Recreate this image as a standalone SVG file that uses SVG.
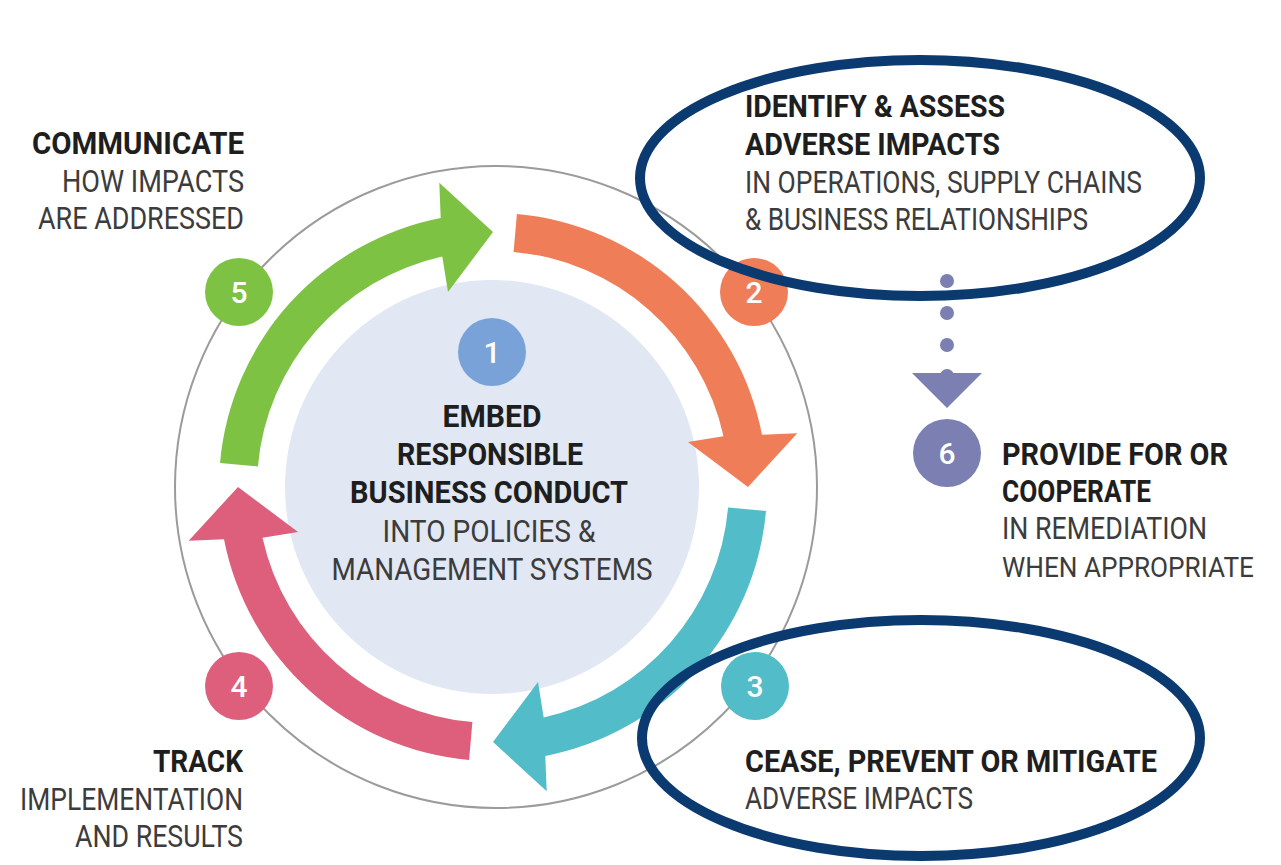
<svg xmlns="http://www.w3.org/2000/svg" width="1281" height="865" viewBox="0 0 1281 865">
<style>
.b{font-family:Roboto,"Liberation Sans",sans-serif;font-weight:700;font-size:31px;fill:#1e1e1e}
.r{font-family:Roboto,"Liberation Sans",sans-serif;font-weight:400;font-size:31px;fill:#3c3c3c}
.n{font-family:Roboto,"Liberation Sans",sans-serif;font-weight:500;font-size:30px;fill:#ffffff;text-anchor:middle}
.ring{fill:none;stroke:#9b9b9b;stroke-width:2}
.oval{fill:none;stroke:#0b3a70;stroke-width:10}
</style>
<defs>
<path id="arr" d="M516.9,214 A274,274 0 0,1 762,434.7 L797.3,433.3 L748,487 L687.9,442 L723.5,436.3 A236,236 0 0,0 513.6,251.9 Z"/>
</defs>
<rect width="1281" height="865" fill="#ffffff"/>
<circle class="ring" cx="496" cy="487" r="321"/>
<g id="core">
<circle cx="492" cy="487" r="207" fill="#e1e8f4"/>
<circle cx="492" cy="352" r="34" fill="#79a3d8"/>
<text class="n" x="492" y="363">1</text>
<text class="b" x="492" y="427" text-anchor="middle" textLength="99" lengthAdjust="spacingAndGlyphs">EMBED</text>
<text class="b" x="490" y="465" text-anchor="middle" textLength="186" lengthAdjust="spacingAndGlyphs">RESPONSIBLE</text>
<text class="b" x="489" y="503" text-anchor="middle" textLength="278" lengthAdjust="spacingAndGlyphs">BUSINESS CONDUCT</text>
<text class="r" x="489" y="542" text-anchor="middle" textLength="213" lengthAdjust="spacingAndGlyphs">INTO POLICIES &amp;</text>
<text class="r" x="492" y="580" text-anchor="middle" textLength="321" lengthAdjust="spacingAndGlyphs">MANAGEMENT SYSTEMS</text>
</g>
<g id="connectors">
<use href="#arr" fill="#ef7d58"/>
<use href="#arr" fill="#52bcc8" transform="rotate(90 493 487)"/>
<use href="#arr" fill="#dd5f7c" transform="rotate(180 493 487)"/>
<use href="#arr" fill="#7ec243" transform="rotate(270 493 487)"/>
<g fill="#7b7fb2">
<circle cx="947" cy="281" r="7"/>
<circle cx="947" cy="313" r="7"/>
<circle cx="947" cy="345" r="7"/>
<circle cx="947" cy="376" r="7"/>
<polygon points="912,373 982,373 947,408"/>
</g>
</g>
<g id="step2">
<circle cx="754" cy="292" r="34" fill="#ef7d58"/>
<text class="n" x="754" y="303">2</text>
<text class="b" x="745" y="117" textLength="260" lengthAdjust="spacingAndGlyphs">IDENTIFY &amp; ASSESS</text>
<text class="b" x="745" y="155" textLength="255" lengthAdjust="spacingAndGlyphs">ADVERSE IMPACTS</text>
<text class="r" x="745" y="193" textLength="397" lengthAdjust="spacingAndGlyphs">IN OPERATIONS, SUPPLY CHAINS</text>
<text class="r" x="745" y="230" textLength="343" lengthAdjust="spacingAndGlyphs">&amp; BUSINESS RELATIONSHIPS</text>
</g>
<g id="step3">
<circle cx="755" cy="686" r="34" fill="#52bcc8"/>
<text class="n" x="755" y="697">3</text>
<text class="b" x="745" y="772" textLength="412" lengthAdjust="spacingAndGlyphs">CEASE, PREVENT OR MITIGATE</text>
<text class="r" x="745" y="809" textLength="228" lengthAdjust="spacingAndGlyphs">ADVERSE IMPACTS</text>
</g>
<g id="step4">
<circle cx="239" cy="686" r="34" fill="#dd5f7c"/>
<text class="n" x="239" y="697">4</text>
<text class="b" x="243" y="772" text-anchor="end" textLength="90" lengthAdjust="spacingAndGlyphs">TRACK</text>
<text class="r" x="243" y="810" text-anchor="end" textLength="223" lengthAdjust="spacingAndGlyphs">IMPLEMENTATION</text>
<text class="r" x="243" y="847" text-anchor="end" textLength="168" lengthAdjust="spacingAndGlyphs">AND RESULTS</text>
</g>
<g id="step5">
<circle cx="239" cy="292" r="34" fill="#7ec243"/>
<text class="n" x="239" y="303">5</text>
<text class="b" x="244" y="154" text-anchor="end" textLength="212" lengthAdjust="spacingAndGlyphs">COMMUNICATE</text>
<text class="r" x="244" y="192" text-anchor="end" textLength="182" lengthAdjust="spacingAndGlyphs">HOW IMPACTS</text>
<text class="r" x="244" y="229" text-anchor="end" textLength="206" lengthAdjust="spacingAndGlyphs">ARE ADDRESSED</text>
</g>
<g id="step6">
<circle cx="947" cy="453" r="34" fill="#7b7fb2"/>
<text class="n" x="947" y="464">6</text>
<text class="b" x="1002" y="465" textLength="226" lengthAdjust="spacingAndGlyphs">PROVIDE FOR OR</text>
<text class="b" x="1002" y="502" textLength="149" lengthAdjust="spacingAndGlyphs">COOPERATE</text>
<text class="r" x="1002" y="539" textLength="205" lengthAdjust="spacingAndGlyphs">IN REMEDIATION</text>
<text class="r" x="1002" y="577" style="font-size:28px" textLength="252" lengthAdjust="spacingAndGlyphs">WHEN APPROPRIATE</text>
</g>
<g id="highlights">
<ellipse class="oval" cx="920" cy="178" rx="280" ry="118"/>
<ellipse class="oval" cx="921" cy="738" rx="279" ry="118"/>
</g>
</svg>
